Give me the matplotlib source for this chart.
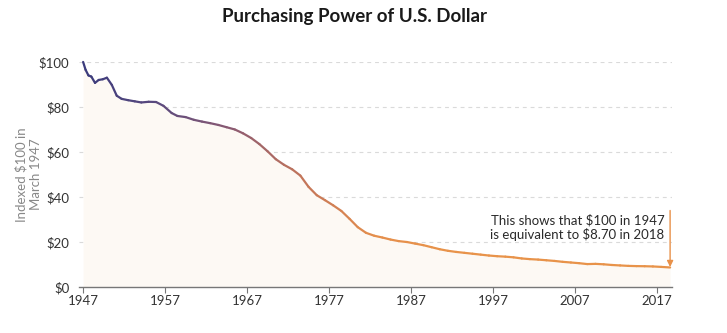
import numpy as np
import matplotlib
matplotlib.use("Agg")
import matplotlib.pyplot as plt
from matplotlib.collections import LineCollection
from matplotlib.colors import LinearSegmentedColormap

# purchasing power of $100 (March 1947 = $100)
years = [1947.0, 1947.3, 1947.65, 1948.0, 1948.45, 1948.9, 1949.4, 1949.9,
         1950.5, 1951.1, 1951.7, 1952.5, 1953.3, 1954.1, 1955.0, 1955.9,
         1956.8, 1957.8, 1958.5, 1959.5, 1960.5, 1961.5, 1962.5, 1963.5,
         1964.5, 1965.5, 1966.5, 1967.5, 1968.5, 1969.5, 1970.5, 1971.5,
         1972.5, 1973.5, 1974.5, 1975.5, 1976.5, 1977.5, 1978.5, 1979.5,
         1980.5, 1981.5, 1982.5, 1983.5, 1984.5, 1985.5, 1986.5, 1987.5,
         1988.5, 1989.5, 1990.5, 1991.5, 1992.5, 1993.5, 1994.5, 1995.5,
         1996.5, 1997.5, 1998.5, 1999.5, 2000.5, 2001.5, 2002.5, 2003.5,
         2004.5, 2005.5, 2006.5, 2007.5, 2008.5, 2009.5, 2010.5, 2011.5,
         2012.5, 2013.5, 2014.5, 2015.5, 2016.5, 2017.5, 2018.6]
values = [100.0, 96.5, 94.0, 93.5, 90.7, 92.0, 92.3, 93.0,
          89.8, 85.0, 83.6, 83.0, 82.5, 82.0, 82.3, 82.2,
          80.5, 77.3, 76.0, 75.5, 74.3, 73.5, 72.8, 72.0,
          71.0, 70.0, 68.3, 66.2, 63.5, 60.3, 56.8, 54.3,
          52.3, 49.5, 44.5, 40.8, 38.6, 36.3, 33.8, 30.3,
          26.6, 24.1, 22.8, 22.0, 21.1, 20.4, 20.0, 19.3,
          18.6, 17.7, 16.8, 16.1, 15.6, 15.2, 14.8, 14.4,
          14.0, 13.7, 13.5, 13.2, 12.7, 12.4, 12.2, 11.9,
          11.6, 11.2, 10.9, 10.6, 10.2, 10.3, 10.1, 9.8,
          9.6, 9.4, 9.3, 9.25, 9.15, 8.95, 8.7]
yticks = [0, 20, 40, 60, 80, 100]
xticks = [1947, 1957, 1967, 1977, 1987, 1997, 2007, 2017]

plt.rcParams['font.family'] = ['Lato', 'DejaVu Sans']

fig = plt.figure(figsize=(7.27, 3.33), dpi=100)
ax = fig.add_axes([0.1087, 0.138, 0.8153, 0.676])

x = np.array(years)
y = np.array(values)

# fill under curve
ax.fill_between(x, 0, y, color='#fdf9f4', zorder=1, linewidth=0)

# line with colour going from navy to orange
cmap = LinearSegmentedColormap.from_list('pp', ['#3b3b7c', '#5a4a7e', '#8a5a72', '#c4765a', '#e58f4c', '#e8934a'])
pts = np.array([x, y]).T.reshape(-1, 1, 2)
segs = np.concatenate([pts[:-1], pts[1:]], axis=1)
lc = LineCollection(segs, cmap=cmap, norm=plt.Normalize(1947, 1992), linewidth=1.6,
                    capstyle='round', joinstyle='round', zorder=3)
lc.set_array((x[:-1] + x[1:]) / 2)
lc.set_clip_on(False)
ax.add_collection(lc)

ax.set_xlim(1946.5, 2018.8)
ax.set_ylim(0, 100)
ax.set_xticks(xticks)
ax.set_xticklabels([str(t) for t in xticks])
ax.set_yticks(yticks)
ax.set_yticklabels(['$' + str(t) for t in yticks])

for t in yticks[1:]:
    ax.axhline(t, color='#dadada', linestyle=(0, (3.5, 3.5)), linewidth=0.8, zorder=0)

for s in ['top', 'right', 'left']:
    ax.spines[s].set_visible(False)
ax.spines['bottom'].set_color('#777777')
ax.spines['bottom'].set_linewidth(1.0)
ax.tick_params(axis='x', direction='out', length=4, color='#777777', labelsize=9.5, labelcolor='#333333', pad=2)
ax.tick_params(axis='y', length=0, labelsize=9.5, labelcolor='#333333', pad=7)

ax.set_ylabel('Indexed $100 in\nMarch 1947', color='#888888', fontsize=9.5, linespacing=1.25)
ax.yaxis.set_label_coords(-0.063, 0.5)

fig.suptitle('Purchasing Power of U.S. Dollar', x=0.488, y=0.975, fontsize=13.5, fontweight='bold', color='#1a1a1a')

# annotation arrow
ax.annotate('', xy=(2018.6, 8.9), xytext=(2018.6, 34),
            arrowprops=dict(arrowstyle='-|>', color='#e8914a', lw=1.0, mutation_scale=9,
                            shrinkA=0, shrinkB=0), annotation_clip=False, zorder=4)
ax.text(2017.9, 26.5, 'This shows that $100 in 1947\nis equivalent to $8.70 in 2018',
        ha='right', va='center', fontsize=9.5, color='#2a2a2a', linespacing=1.15)

fig.savefig('out.png', dpi=100, facecolor='white')
